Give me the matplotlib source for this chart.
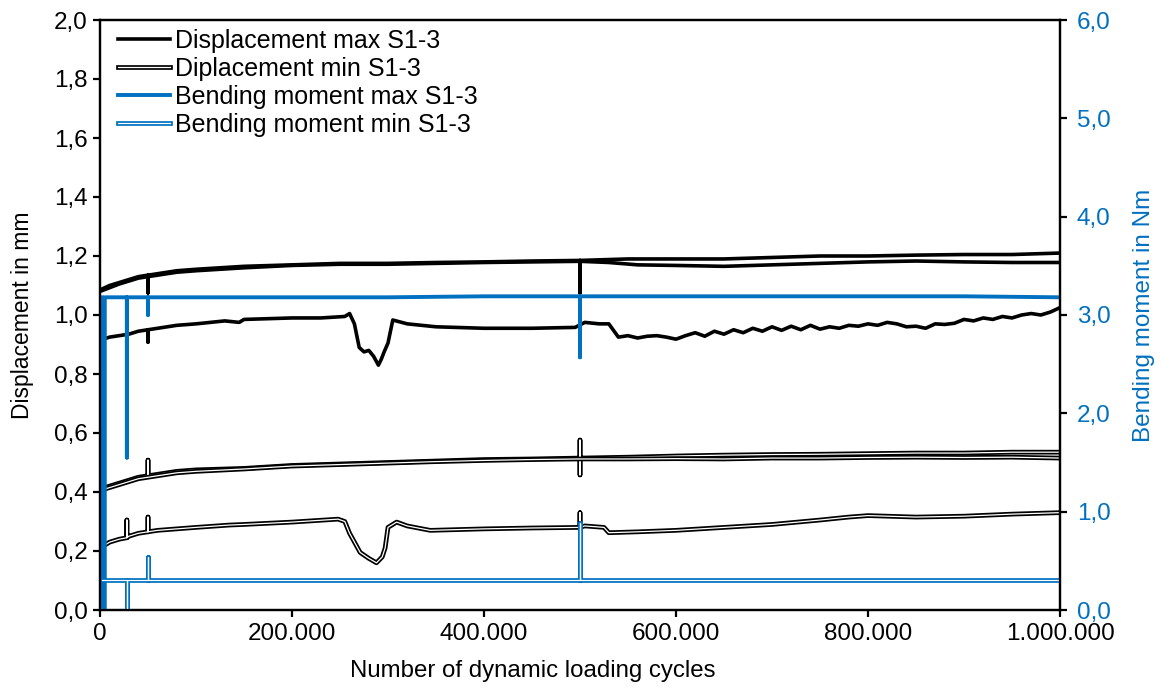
import matplotlib
matplotlib.use("Agg")
import matplotlib.pyplot as plt
import matplotlib.patheffects as pe
from matplotlib.ticker import FuncFormatter, MultipleLocator

plt.rcParams['font.family'] = ['Liberation Sans', 'DejaVu Sans']

# cycles in thousands (repeated x = spike)
cyc_max_a = [0, 10, 20, 30, 40, 50, 50, 50, 60, 80, 100, 150, 200, 250, 300, 350, 400, 450,
             500, 500, 500, 550, 600, 650, 700, 750, 800, 850, 900, 950, 1000]
disp_max_a = [1.085, 1.10, 1.11, 1.12, 1.13, 1.135, 1.075, 1.135, 1.14, 1.15, 1.155, 1.165, 1.17,
              1.175, 1.175, 1.178, 1.18, 1.183, 1.185, 1.075, 1.185, 1.19, 1.19, 1.19, 1.195,
              1.2, 1.2, 1.203, 1.205, 1.205, 1.21]

cyc_max_b = [0, 20, 40, 60, 80, 100, 150, 200, 250, 300, 350, 400, 450, 500, 530, 560, 600,
             650, 700, 750, 800, 850, 900, 950, 1000]
disp_max_b = [1.08, 1.105, 1.125, 1.135, 1.145, 1.15, 1.16, 1.168, 1.172, 1.172, 1.175, 1.178,
              1.18, 1.182, 1.178, 1.17, 1.168, 1.165, 1.17, 1.175, 1.18, 1.183, 1.18, 1.178, 1.178]

cyc_max_c = [5, 10, 20, 30, 40, 50, 50, 50, 60, 80, 100, 130, 145, 150, 200, 230, 255, 260, 265,
             270, 275, 280, 285, 290, 293, 296, 300, 305, 320, 350, 400, 450, 495, 505, 520,
             530, 540, 550, 560, 570, 580, 590, 600, 610, 620, 630, 640, 650, 660, 670, 680,
             690, 700, 710, 720, 730, 740, 750, 760, 770, 780, 790, 800, 810, 820, 830, 840,
             850, 860, 870, 880, 890, 900, 910, 920, 930, 940, 950, 960, 970, 980, 990, 1000]
disp_max_c = [0.92, 0.925, 0.93, 0.935, 0.945, 0.95, 0.908, 0.95, 0.955, 0.965, 0.97, 0.98, 0.975,
              0.985, 0.99, 0.99, 0.995, 1.005, 0.97, 0.89, 0.875, 0.88, 0.86, 0.83, 0.85, 0.875,
              0.905, 0.983, 0.97, 0.96, 0.955, 0.955, 0.958, 0.975, 0.97, 0.97,
              0.925, 0.93, 0.922, 0.928, 0.93, 0.925, 0.918, 0.93, 0.94, 0.928, 0.945, 0.935,
              0.95, 0.94, 0.955, 0.945, 0.96, 0.948, 0.962, 0.95, 0.965, 0.952, 0.96, 0.955,
              0.965, 0.962, 0.97, 0.965, 0.975, 0.97, 0.96, 0.962, 0.955, 0.97, 0.968, 0.972,
              0.985, 0.98, 0.99, 0.985, 0.995, 0.99, 1.0, 1.005, 1.0, 1.01, 1.025]

cyc_min_a = [0, 10, 20, 30, 40, 50, 50, 50, 60, 80, 100, 150, 200, 250, 300, 350, 400, 450,
             500, 500, 500, 500, 550, 600, 650, 700, 750, 800, 850, 900, 950, 1000]
disp_min_a = [0.41, 0.42, 0.43, 0.44, 0.45, 0.455, 0.508, 0.455, 0.46, 0.47, 0.475, 0.48, 0.49,
              0.495, 0.50, 0.505, 0.51, 0.512, 0.515, 0.576, 0.458, 0.515, 0.518, 0.522, 0.525,
              0.527, 0.528, 0.53, 0.532, 0.532, 0.535, 0.535]

cyc_min_b = [0, 20, 40, 60, 80, 100, 150, 200, 250, 300, 350, 400, 450, 500, 550, 600, 650,
             700, 750, 800, 850, 900, 950, 1000]
disp_min_b = [0.405, 0.425, 0.445, 0.455, 0.465, 0.47, 0.478, 0.488, 0.493, 0.498, 0.503, 0.507,
              0.51, 0.512, 0.512, 0.513, 0.512, 0.515, 0.515, 0.517, 0.518, 0.517, 0.518, 0.515]

cyc_min_c = [5, 10, 20, 28, 28, 28, 30, 40, 50, 50, 50, 60, 80, 100, 135, 150, 200, 248, 255,
             260, 271, 280, 288, 294, 297, 300, 309, 320, 344, 400, 450, 500, 500, 500, 505,
             525, 530, 560, 600, 650, 700, 750, 780, 800, 850, 900, 950, 1000]
disp_min_c = [0.22, 0.23, 0.24, 0.245, 0.305, 0.245, 0.25, 0.26, 0.265, 0.315, 0.265, 0.27,
              0.275, 0.28, 0.288, 0.29, 0.298, 0.308, 0.30, 0.26, 0.195, 0.175, 0.16, 0.18,
              0.21, 0.28, 0.298, 0.285, 0.27, 0.275, 0.278, 0.28, 0.33, 0.28, 0.285, 0.28,
              0.262, 0.265, 0.27, 0.28, 0.29, 0.305, 0.315, 0.32, 0.315, 0.318, 0.325, 0.33]

cyc_bm = [2, 2, 5, 5, 28, 28, 28, 50, 50, 50, 100, 200, 300, 400, 500, 500, 500, 600, 700,
          800, 900, 1000]
bm_max = [3.18, 0.0, 0.0, 3.18, 3.18, 1.55, 3.18, 3.18, 3.0, 3.18, 3.18, 3.18, 3.18, 3.19,
          3.19, 2.57, 3.19, 3.19, 3.19, 3.19, 3.19, 3.18]
bm_min = [0.31, 0.31, 0.31, 0.31, 0.31, 0.0, 0.31, 0.31, 0.54, 0.31, 0.31, 0.31, 0.31, 0.31,
          0.31, 0.88, 0.31, 0.31, 0.31, 0.31, 0.31, 0.31]

blue = '#0070C0'

fig = plt.figure(figsize=(11.62, 6.91), dpi=100)
ax = fig.add_axes([100 / 1162, 1 - 610 / 691, 960 / 1162, 590 / 691])
ax2 = ax.twinx()


def k(c):
    return [v * 1000 for v in c]


def hollow(color):
    return [pe.Stroke(linewidth=3.4, foreground=color), pe.Normal()]


ax.plot(k(cyc_max_a), disp_max_a, color='black', lw=2.6, label='Displacement max S1-3')
ax.plot(k(cyc_max_b), disp_max_b, color='black', lw=2.6)
ax.plot(k(cyc_max_c), disp_max_c, color='black', lw=2.6)
ax.plot(k(cyc_min_a), disp_min_a, color='white', lw=0.9, path_effects=hollow('black'),
        label='Diplacement min S1-3')
ax.plot(k(cyc_min_b), disp_min_b, color='white', lw=0.9, path_effects=hollow('black'))
ax.plot(k(cyc_min_c), disp_min_c, color='white', lw=0.9, path_effects=hollow('black'))

ax2.plot(k(cyc_bm), bm_max, color=blue, lw=2.8, label='Bending moment max S1-3')
ax2.plot(k(cyc_bm), bm_min, color='white', lw=0.9, path_effects=hollow(blue),
         label='Bending moment min S1-3')

ax.set_xlim(0, 1000000)
ax.set_ylim(0, 2.0)
ax2.set_ylim(0, 6.0)
ax.xaxis.set_major_locator(MultipleLocator(200000))
ax.yaxis.set_major_locator(MultipleLocator(0.2))
ax2.yaxis.set_major_locator(MultipleLocator(1.0))

ax.xaxis.set_major_formatter(FuncFormatter(lambda v, p: f"{int(round(v)):,}".replace(',', '.')))
ax.yaxis.set_major_formatter(FuncFormatter(lambda v, p: f"{v:.1f}".replace('.', ',')))
ax2.yaxis.set_major_formatter(FuncFormatter(lambda v, p: f"{v:.1f}".replace('.', ',')))

for a in (ax, ax2):
    for s in a.spines.values():
        s.set_linewidth(1.6)
        s.set_color('black')
    a.tick_params(direction='out', length=5, width=1.6, labelsize=17.5, pad=4)
ax2.tick_params(axis='y', labelcolor=blue, pad=7)

ax.set_xlabel('Number of dynamic loading cycles', fontsize=17.3, labelpad=14)
ax.xaxis.set_label_coords((533 - 100) / 960, -0.085)
ax.set_ylabel('Displacement in mm', fontsize=16.5, labelpad=14)
ax2.set_ylabel('Bending moment in Nm', fontsize=17.5, color=blue, labelpad=16)

h1, l1 = ax.get_legend_handles_labels()
h2, l2 = ax2.get_legend_handles_labels()
ax2.legend(h1 + h2, l1 + l2, loc='upper left', bbox_to_anchor=(0.0, 1.015), frameon=False,
           fontsize=18, handlelength=2.1, handletextpad=0.2, labelspacing=0.16,
           borderaxespad=0.3)

fig.savefig('out.png', dpi=100)
